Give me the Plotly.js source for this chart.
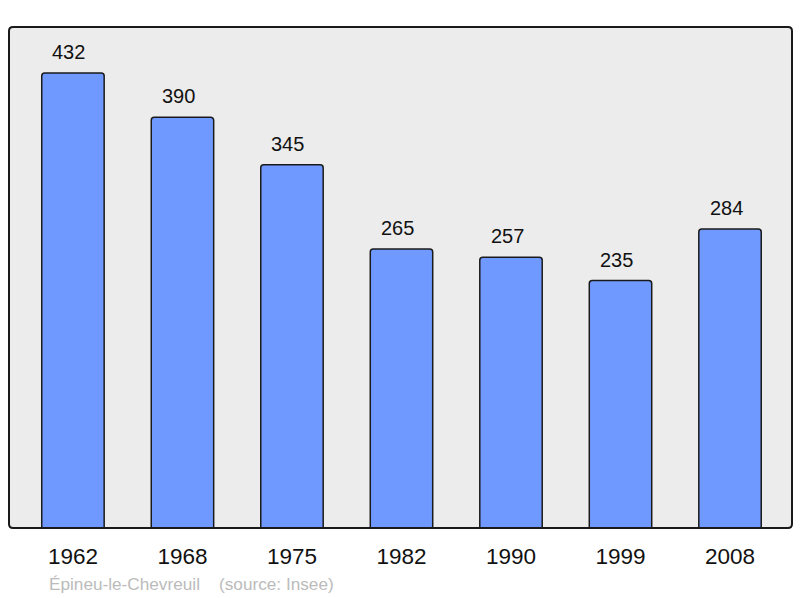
<!DOCTYPE html>
<html><head><meta charset="utf-8">
<script src="https://cdn.plot.ly/plotly-3.0.1.min.js"></script>
<style>body{margin:0;background:#fff}#c{width:800px;height:598px}</style>
</head><body><div id="c"></div>
<script>
const years = ["1962","1968","1975","1982","1990","1999","2008"];
const population = [432, 390, 345, 265, 257, 235, 284];
const footer = "Épineu-le-Chevreuil\u00a0\u00a0\u00a0\u00a0(source: Insee)";

const idx = years.map((_, i) => i);
const font = "Liberation Sans, Arial, sans-serif";

const trace = {
  type: "bar",
  x: idx,
  y: population,
  width: 0.57,
  marker: {color: "#7099ff", line: {color: "#1a1a1a", width: 1.5}, cornerradius: 3},
  hoverinfo: "none"
};

const annotations = idx.map((i) => ({
  x: i, y: population[i], xref: "x", yref: "y",
  text: String(population[i]), showarrow: false,
  yanchor: "bottom", yshift: 8, xshift: -4,
  font: {family: font, size: 20, color: "#111"}
}));
annotations.push({
  xref: "paper", yref: "paper", x: 0.048, y: -0.112,
  xanchor: "left", yanchor: "middle", showarrow: false,
  text: footer, font: {family: font, size: 17.2, color: "#bbbbbb"}
});

const W = 783, H = 501, r = 4;
const framePath = `M ${r} 0 L ${W - r} 0 Q ${W} 0 ${W} ${r} L ${W} ${H - r} Q ${W} ${H} ${W - r} ${H} L ${r} ${H} Q 0 ${H} 0 ${H - r} L 0 ${r} Q 0 0 ${r} 0 Z`;

const layout = {
  width: 800, height: 598,
  margin: {l: 9, r: 8, t: 27, b: 70},
  paper_bgcolor: "#ffffff",
  plot_bgcolor: "#ececec",
  showlegend: false,
  xaxis: {
    range: [-0.584, 6.566], tickvals: idx, ticktext: years,
    showgrid: false, zeroline: false, showline: false, ticks: "",
    tickfont: {family: font, size: 22.5, color: "#111"}, ticklabelstandoff: 12
  },
  yaxis: {
    range: [0, 475.7], showgrid: false, zeroline: false, showline: false,
    showticklabels: false, ticks: ""
  },
  shapes: [{
    type: "path", xref: "paper", yref: "paper",
    xsizemode: "pixel", ysizemode: "pixel", xanchor: 0, yanchor: 0,
    path: framePath,
    line: {color: "#1a1a1a", width: 2}, layer: "above"
  }],
  annotations: annotations
};

Plotly.newPlot("c", [trace], layout, {staticPlot: true, displayModeBar: false});
</script></body></html>
